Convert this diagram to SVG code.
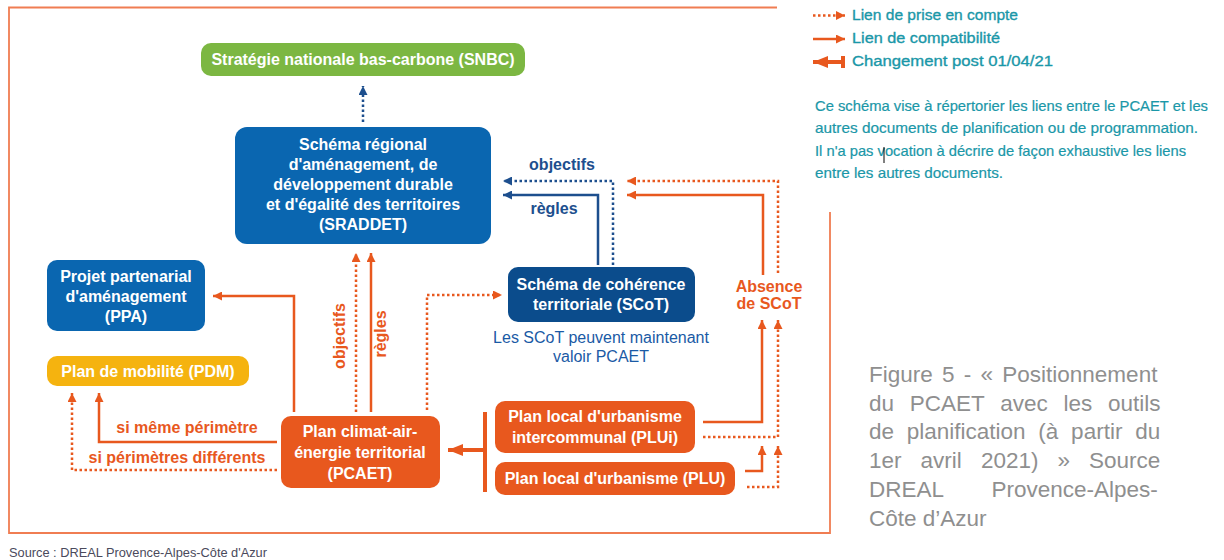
<svg xmlns="http://www.w3.org/2000/svg" width="1224" height="560" viewBox="0 0 1224 560">
<style>
.box{stroke:none}
.bt{font-family:"Liberation Sans",Arial,sans-serif;font-weight:bold;font-size:16px;fill:#ffffff;text-anchor:middle}
.ol{font-family:"Liberation Sans",Arial,sans-serif;font-weight:bold;font-size:16px;fill:#e8581e;text-anchor:middle}
.bl{font-family:"Liberation Sans",Arial,sans-serif;font-weight:bold;font-size:16px;fill:#1d4f8e;text-anchor:middle}
.cap{font-family:"Liberation Sans",Arial,sans-serif;font-size:16px;fill:#1a5aa5;text-anchor:middle}
.lg{font-family:"Liberation Sans",Arial,sans-serif;font-size:15.5px;fill:#1a97a8;stroke:#1a97a8;stroke-width:0.35}
.pg{font-family:"Liberation Sans",Arial,sans-serif;font-size:14.8px;fill:#1a97a8;stroke:#1a97a8;stroke-width:0.2}
.fig{font-family:"Liberation Sans",Arial,sans-serif;font-size:22.5px;fill:#8f8f8f}
.os{fill:none;stroke:#e8581e;stroke-width:2.5}
.od{fill:none;stroke:#e8581e;stroke-width:2.5;stroke-dasharray:2.5 2.5}
.bs{fill:none;stroke:#1d4f8e;stroke-width:2.5}
.bd{fill:none;stroke:#1d4f8e;stroke-width:2.5;stroke-dasharray:2.5 2.5}
.thick{fill:none;stroke:#e8581e;stroke-width:4}
</style>
<defs>
<marker id="ao" viewBox="0 0 9 9" refX="9" refY="4.5" markerWidth="9" markerHeight="9" markerUnits="userSpaceOnUse" orient="auto"><path d="M0,0 L9,4.5 L0,9 z" fill="#e8581e"/></marker>
<marker id="ab" viewBox="0 0 9 9" refX="9" refY="4.5" markerWidth="9" markerHeight="9" markerUnits="userSpaceOnUse" orient="auto"><path d="M0,0 L9,4.5 L0,9 z" fill="#1d4f8e"/></marker>
<marker id="at" viewBox="0 0 15 12" refX="15" refY="6" markerWidth="15" markerHeight="12" markerUnits="userSpaceOnUse" orient="auto"><path d="M0,0 L15,6 L0,12 z" fill="#e8581e"/></marker>
</defs>
<rect width="1224" height="560" fill="#ffffff"/>
<path d="M777,7.5 H9 V533 H830 V212" fill="none" stroke="#f07d52" stroke-width="1.8"/>
<g id="legend">
<path class="od" d="M813,15.5 H845" marker-end="url(#ao)"/>
<path class="os" d="M813,39 H845" marker-end="url(#ao)"/>
<path class="thick" d="M843,62 H813" marker-end="url(#at)"/>
<path class="thick" d="M843,56 V68"/>
<text class="lg" x="852" y="20" textLength="166" lengthAdjust="spacingAndGlyphs">Lien de prise en compte</text>
<text class="lg" x="852" y="43" textLength="148" lengthAdjust="spacingAndGlyphs">Lien de compatibilité</text>
<text class="lg" x="852" y="66" textLength="201" lengthAdjust="spacingAndGlyphs">Changement post 01/04/21</text>
<text class="pg" x="815" y="111" textLength="393" lengthAdjust="spacingAndGlyphs">Ce schéma vise à répertorier les liens entre le PCAET et les</text>
<text class="pg" x="815" y="133" textLength="383" lengthAdjust="spacingAndGlyphs">autres documents de planification ou de programmation.</text>
<text class="pg" x="815" y="156" textLength="371" lengthAdjust="spacingAndGlyphs">Il n'a pas vocation à décrire de façon exhaustive les liens</text>
<text class="pg" x="815" y="178" textLength="188" lengthAdjust="spacingAndGlyphs">entre les autres documents.</text>
<path d="M884,147 V163" stroke="#000000" stroke-width="1"/>
</g>
<g id="connectors">
<path class="bd" d="M363,122 V86" marker-end="url(#ab)"/>
<path class="bd" d="M613,265 V181 H503" marker-end="url(#ab)"/>
<path class="bs" d="M598,265 V195 H503" marker-end="url(#ab)"/>
<path class="od" d="M778,273 V181 H627" marker-end="url(#ao)"/>
<path class="os" d="M763,275 V195 H627" marker-end="url(#ao)"/>
<path class="od" d="M356,412 V253" marker-end="url(#ao)"/>
<path class="os" d="M371,412 V253" marker-end="url(#ao)"/>
<path class="od" d="M427,410 V295 H502" marker-end="url(#ao)"/>
<path class="os" d="M294,412 V296 H213" marker-end="url(#ao)"/>
<path class="os" d="M277,442 H99 V393" marker-end="url(#ao)"/>
<path class="od" d="M277,470 H72 V393" marker-end="url(#ao)"/>
<path class="thick" d="M485,412 V492"/>
<path class="thick" d="M485,450 H448" marker-end="url(#at)"/>
<path class="os" d="M703,422 H762 V320" marker-end="url(#ao)"/>
<path class="od" d="M703,437 H778 V320" marker-end="url(#ao)"/>
<path class="os" d="M745,471 H762 V446" marker-end="url(#ao)"/>
<path class="od" d="M747,487 H778 V446" marker-end="url(#ao)"/>
<text class="bl" x="562" y="170">objectifs</text>
<text class="bl" x="554" y="214">règles</text>
<text class="ol" transform="translate(345,336) rotate(-90)">objectifs</text>
<text class="ol" transform="translate(386,334) rotate(-90)">règles</text>
<text class="ol" x="187" y="433">si même périmètre</text>
<text class="ol" x="177" y="463">si périmètres différents</text>
</g>
<g id="snbc">
<rect x="201" y="43" width="324" height="33" rx="10" fill="#7cb742"/>
<text class="bt" x="363" y="65">Stratégie nationale bas-carbone (SNBC)</text>
</g>
<g id="sraddet">
<rect x="235" y="127" width="256" height="117" rx="12" fill="#0a66b0"/>
<text class="bt" x="363" y="150">Schéma régional</text>
<text class="bt" x="363" y="170">d'aménagement, de</text>
<text class="bt" x="363" y="190">développement durable</text>
<text class="bt" x="363" y="210">et d'égalité des territoires</text>
<text class="bt" x="363" y="230">(SRADDET)</text>
</g>
<g id="ppa">
<rect x="47" y="260" width="158" height="71" rx="10" fill="#0a66b0"/>
<text class="bt" x="126" y="282">Projet partenarial</text>
<text class="bt" x="126" y="302">d'aménagement</text>
<text class="bt" x="126" y="322">(PPA)</text>
</g>
<g id="pdm">
<rect x="47" y="356" width="202" height="30" rx="10" fill="#f5b30f"/>
<text class="bt" x="148" y="377">Plan de mobilité (PDM)</text>
</g>
<g id="scot">
<rect x="508" y="267" width="187" height="55" rx="10" fill="#0b4c8c"/>
<text class="bt" x="601" y="290">Schéma de cohérence</text>
<text class="bt" x="601" y="310">territoriale (SCoT)</text>
<text class="cap" x="601" y="343">Les SCoT peuvent maintenant</text>
<text class="cap" x="601" y="362">valoir PCAET</text>
</g>
<g id="absence">
<text class="ol" x="769" y="292">Absence</text>
<text class="ol" x="769" y="309">de SCoT</text>
</g>
<g id="pcaet">
<rect x="281" y="416" width="159" height="72" rx="10" fill="#e8581e"/>
<text class="bt" x="360" y="437">Plan climat-air-</text>
<text class="bt" x="360" y="458">énergie territorial</text>
<text class="bt" x="360" y="479">(PCAET)</text>
</g>
<g id="plui">
<rect x="495" y="401" width="200" height="52" rx="10" fill="#e8581e"/>
<text class="bt" x="595" y="422">Plan local d'urbanisme</text>
<text class="bt" x="595" y="443">intercommunal (PLUi)</text>
</g>
<g id="plu">
<rect x="495" y="462" width="240" height="33" rx="10" fill="#e8581e"/>
<text class="bt" x="615" y="484">Plan local d'urbanisme (PLU)</text>
</g>
<g id="caption">
<text class="fig" x="869" y="381.5" word-spacing="3">Figure 5 - « Positionnement</text>
<text class="fig" x="869" y="410.5" word-spacing="9.5">du PCAET avec les outils</text>
<text class="fig" x="869" y="439.3" word-spacing="6.5">de planification (à partir du</text>
<text class="fig" x="869" y="468.2" word-spacing="12.8">1er avril 2021) » Source</text>
<text class="fig" x="869" y="497" word-spacing="42">DREAL Provence-Alpes-</text>
<text class="fig" x="869" y="525.8">Côte d’Azur</text>
</g>
<text x="9" y="557" font-family="'Liberation Sans',Arial,sans-serif" font-size="13" fill="#4a4a5c" textLength="258" lengthAdjust="spacingAndGlyphs">Source : DREAL Provence-Alpes-Côte d'Azur</text>
</svg>
